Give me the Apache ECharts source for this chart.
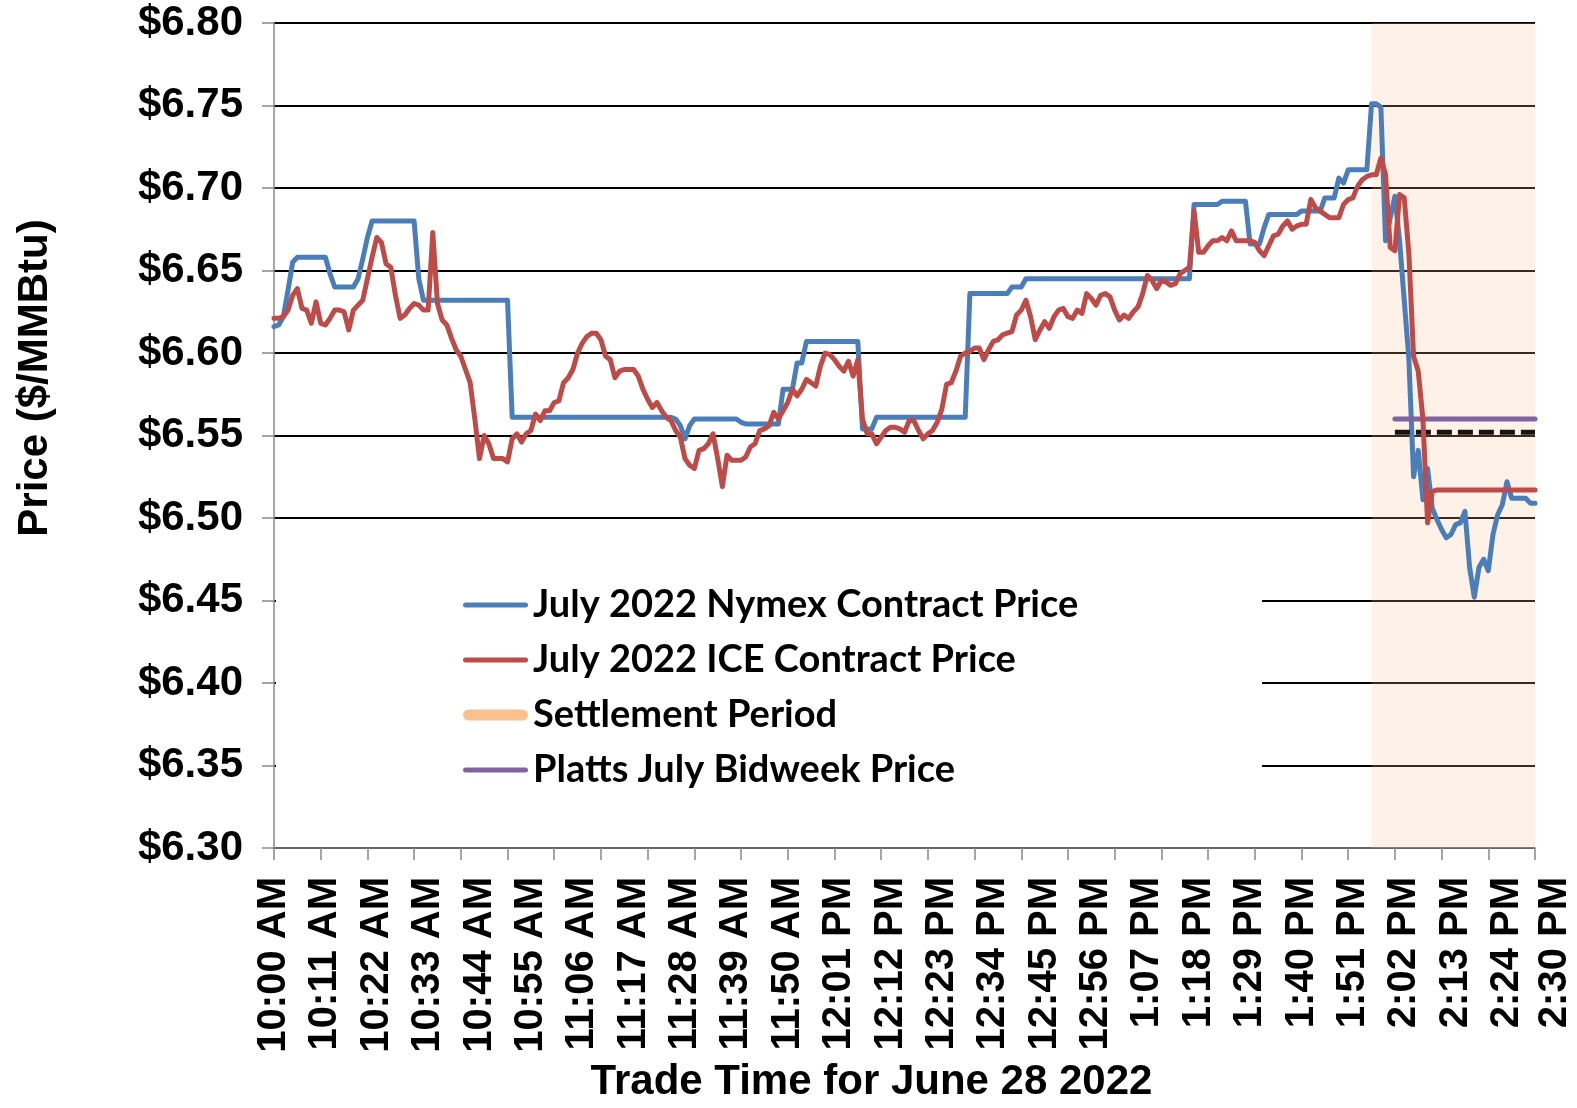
<!DOCTYPE html>
<html><head><meta charset="utf-8">
<script src="https://cdn.jsdelivr.net/npm/echarts@6/dist/echarts.min.js"></script>
<style>html,body{margin:0;padding:0;background:#fff}#c{width:1577px;height:1108px}</style>
</head><body><div id="c"></div><script>
// Categories: one per minute, 10:00 AM .. 2:30 PM
const categories = [];
for (let m = 0; m <= 270; m++) {
  const t = 600 + m, h = Math.floor(t / 60), mm = t % 60;
  const h12 = h > 12 ? h - 12 : h;
  categories.push(h12 + ':' + String(mm).padStart(2, '0') + ' ' + (h >= 12 ? 'PM' : 'AM'));
}

const nymex = [
 6.616,6.617,6.622,6.638,6.655,6.658,6.658,6.658,6.658,6.658,
 6.658,6.658,6.648,6.640,6.640,6.640,6.640,6.640,6.645,6.657,
 6.670,6.680,6.680,6.680,6.680,6.680,6.680,6.680,6.680,6.680,
 6.680,6.645,6.632,6.632,6.632,6.632,6.632,6.632,6.632,6.632,
 6.632,6.632,6.632,6.632,6.632,6.632,6.632,6.632,6.632,6.632,
 6.632,6.561,6.561,6.561,6.561,6.561,6.561,6.561,6.561,6.561,
 6.561,6.561,6.561,6.561,6.561,6.561,6.561,6.561,6.561,6.561,
 6.561,6.561,6.561,6.561,6.561,6.561,6.561,6.561,6.561,6.561,
 6.561,6.561,6.561,6.561,6.561,6.561,6.560,6.556,6.548,6.556,
 6.560,6.560,6.560,6.560,6.560,6.560,6.560,6.560,6.560,6.560,
 6.558,6.557,6.557,6.557,6.557,6.557,6.557,6.557,6.557,6.578,
 6.578,6.578,6.594,6.594,6.607,6.607,6.607,6.607,6.607,6.607,
 6.607,6.607,6.607,6.607,6.607,6.607,6.554,6.554,6.554,6.561,
 6.561,6.561,6.561,6.561,6.561,6.561,6.561,6.561,6.561,6.561,
 6.561,6.561,6.561,6.561,6.561,6.561,6.561,6.561,6.561,6.636,
 6.636,6.636,6.636,6.636,6.636,6.636,6.636,6.636,6.640,6.640,
 6.640,6.645,6.645,6.645,6.645,6.645,6.645,6.645,6.645,6.645,
 6.645,6.645,6.645,6.645,6.645,6.645,6.645,6.645,6.645,6.645,
 6.645,6.645,6.645,6.645,6.645,6.645,6.645,6.645,6.645,6.645,
 6.645,6.645,6.645,6.645,6.645,6.645,6.645,6.690,6.690,6.690,
 6.690,6.690,6.690,6.692,6.692,6.692,6.692,6.692,6.692,6.666,
 6.666,6.666,6.676,6.684,6.684,6.684,6.684,6.684,6.684,6.684,
 6.686,6.686,6.686,6.686,6.686,6.694,6.694,6.694,6.706,6.703,
 6.711,6.711,6.711,6.711,6.711,6.751,6.751,6.749,6.668,6.682,
 6.695,6.668,6.632,6.596,6.525,6.541,6.511,6.530,6.506,6.499,
 6.493,6.488,6.490,6.496,6.497,6.504,6.470,6.452,6.470,6.475,
 6.468,6.490,6.502,6.508,6.522,6.512,6.512,6.512,6.512,6.509,
 6.509
];

const ice = [
 6.621,6.621,6.622,6.626,6.635,6.639,6.627,6.626,6.618,6.631,
 6.618,6.617,6.621,6.626,6.626,6.625,6.614,6.626,6.629,6.632,
 6.645,6.658,6.670,6.667,6.654,6.652,6.635,6.621,6.623,6.627,
 6.630,6.629,6.626,6.626,6.673,6.630,6.620,6.617,6.609,6.602,
 6.598,6.590,6.582,6.560,6.536,6.550,6.545,6.536,6.536,6.536,
 6.534,6.548,6.551,6.546,6.551,6.553,6.563,6.559,6.565,6.565,
 6.570,6.571,6.582,6.585,6.590,6.600,6.606,6.610,6.612,6.612,
 6.608,6.598,6.596,6.585,6.589,6.590,6.590,6.590,6.586,6.578,
 6.572,6.567,6.570,6.565,6.561,6.559,6.553,6.549,6.536,6.532,
 6.530,6.541,6.542,6.545,6.551,6.536,6.519,6.538,6.535,6.535,
 6.535,6.537,6.543,6.545,6.553,6.554,6.556,6.564,6.560,6.565,
 6.570,6.578,6.574,6.578,6.584,6.582,6.580,6.592,6.600,6.599,
 6.596,6.592,6.589,6.595,6.586,6.596,6.560,6.551,6.551,6.545,
 6.549,6.553,6.555,6.555,6.554,6.552,6.559,6.559,6.553,6.548,
 6.551,6.553,6.558,6.566,6.581,6.582,6.589,6.598,6.600,6.601,
 6.603,6.603,6.596,6.602,6.607,6.608,6.611,6.612,6.613,6.623,
 6.626,6.632,6.622,6.608,6.614,6.619,6.615,6.622,6.626,6.627,
 6.622,6.621,6.626,6.624,6.636,6.633,6.629,6.635,6.636,6.634,
 6.626,6.620,6.623,6.621,6.625,6.628,6.636,6.647,6.644,6.639,
 6.644,6.643,6.641,6.642,6.648,6.650,6.652,6.686,6.661,6.661,
 6.665,6.668,6.668,6.670,6.668,6.674,6.668,6.668,6.668,6.668,
 6.667,6.662,6.659,6.665,6.671,6.672,6.677,6.680,6.675,6.677,
 6.678,6.678,6.693,6.688,6.686,6.684,6.682,6.682,6.682,6.690,
 6.693,6.694,6.701,6.705,6.707,6.708,6.708,6.718,6.708,6.664,
 6.662,6.696,6.694,6.660,6.598,6.589,6.560,6.497,6.516,6.517,
 6.517,6.517,6.517,6.517,6.517,6.517,6.517,6.517,6.517,6.517,
 6.517,6.517,6.517,6.517,6.517,6.517,6.517,6.517,6.517,6.517,
 6.517
];

const plattsPrice = 6.56;
const nymexSettle = 6.552;
const refStart = '2:00 PM', refEnd = '2:30 PM';
const settleStart = '1:55 PM', settleEnd = '2:30 PM';
const yMin = 6.30, yMax = 6.80, yStep = 0.05;

const names = ['July 2022 Nymex Contract Price', 'July 2022 ICE Contract Price', 'Settlement Period', 'Platts July Bidweek Price'];
const thinIcon = 'path://M2.5,0 L62.5,0 A2.5,2.5 0 0 1 62.5,5 L2.5,5 A2.5,2.5 0 0 1 2.5,0 Z';
const thickIcon = 'path://M5.5,0 L59.5,0 A5.5,5.5 0 0 1 59.5,11 L5.5,11 A5.5,5.5 0 0 1 5.5,0 Z';

const AX = 'Liberation Sans, Arial, sans-serif';
const chart = echarts.init(document.getElementById('c'), null, {renderer: 'canvas'});
chart.setOption({
  animation: false,
  backgroundColor: '#fff',
  grid: {left: 274, right: 42, top: 23, bottom: 256, containLabel: false},
  legend: {
    orient: 'vertical', left: 276, top: 545,
    padding: [40, 0, 40, 187],
    backgroundColor: '#fff',
    itemWidth: 65, itemHeight: 14, itemGap: 15,
    selectedMode: false,
    textStyle: {fontFamily: 'Lato, sans-serif', fontWeight: 'bold', fontSize: 38, color: '#000', lineHeight: 40, width: 729},
    data: [
      {name: names[0], icon: thinIcon},
      {name: names[1], icon: thinIcon},
      {name: names[2], icon: thickIcon},
      {name: names[3], icon: thinIcon}
    ]
  },
  xAxis: {
    type: 'category', data: categories, boundaryGap: false,
    name: 'Trade Time for June 28 2022', nameLocation: 'middle', nameGap: 213,
    nameTextStyle: {fontFamily: AX, fontWeight: 'bold', fontSize: 42, color: '#000', padding: [0, 66, 0, 0]},
    axisLine: {show: true, lineStyle: {color: '#888', width: 1.5}},
    axisTick: {show: true, length: 12, interval: (i) => i % 10 === 0, lineStyle: {color: '#888', width: 1.5}},
    axisLabel: {
      rotate: 90, margin: 29, interval: (i) => i % 11 === 0 || i === 270,
      fontFamily: AX, fontWeight: 'bold', fontSize: 40, color: '#000',
      formatter: (v, i) => i === 270 ? '{last|' + v + '}' : v,
      rich: {last: {fontFamily: AX, fontWeight: 'bold', fontSize: 40, color: '#000', padding: [40, 0, 0, 0]}}
    },
    splitLine: {show: false}
  },
  yAxis: {
    type: 'value', min: yMin, max: yMax, interval: yStep,
    name: 'Price ($/MMBtu)', nameLocation: 'middle', nameRotate: 90, nameGap: 218,
    nameTextStyle: {fontFamily: AX, fontWeight: 'bold', fontSize: 42, color: '#000', padding: [0, 0, 0, 115]},
    axisLine: {show: true, lineStyle: {color: '#888', width: 1.5}},
    axisTick: {show: true, length: 12, lineStyle: {color: '#888', width: 1.5}},
    axisLabel: {margin: 31, fontFamily: AX, fontWeight: 'bold', fontSize: 42, color: '#000', padding: [6, 0, 0, 0],
      formatter: (v) => '$' + v.toFixed(2)},
    splitLine: {show: true, lineStyle: {color: '#000', width: 1.8}}
  },
  series: [
    {name: names[2], type: 'line', data: [], color: '#FAC090', z: 1,
     markArea: {silent: true, itemStyle: {color: 'rgba(250,192,144,0.22)'},
       data: [[{xAxis: settleStart}, {xAxis: settleEnd}]]}},
    {name: names[0], type: 'line', data: nymex, symbol: 'none', color: '#4A7EBB', z: 3,
     lineStyle: {width: 5, cap: 'round', join: 'round'}},
    {name: names[1], type: 'line', data: ice, symbol: 'none', color: '#BE4B48', z: 4,
     lineStyle: {width: 5, cap: 'round', join: 'round'}},
    {name: names[3], type: 'line', data: [[refStart, plattsPrice], [refEnd, plattsPrice]], symbol: 'none', color: '#8064A2', z: 3,
     lineStyle: {width: 5, cap: 'round'}},
    {name: 'Nymex Settlement Price', type: 'line', data: [[refStart, nymexSettle], [refEnd, nymexSettle]], symbol: 'none', color: '#1a1410', z: 3,
     lineStyle: {width: 5, type: [15, 6]}}
  ]
});
</script></body></html>
